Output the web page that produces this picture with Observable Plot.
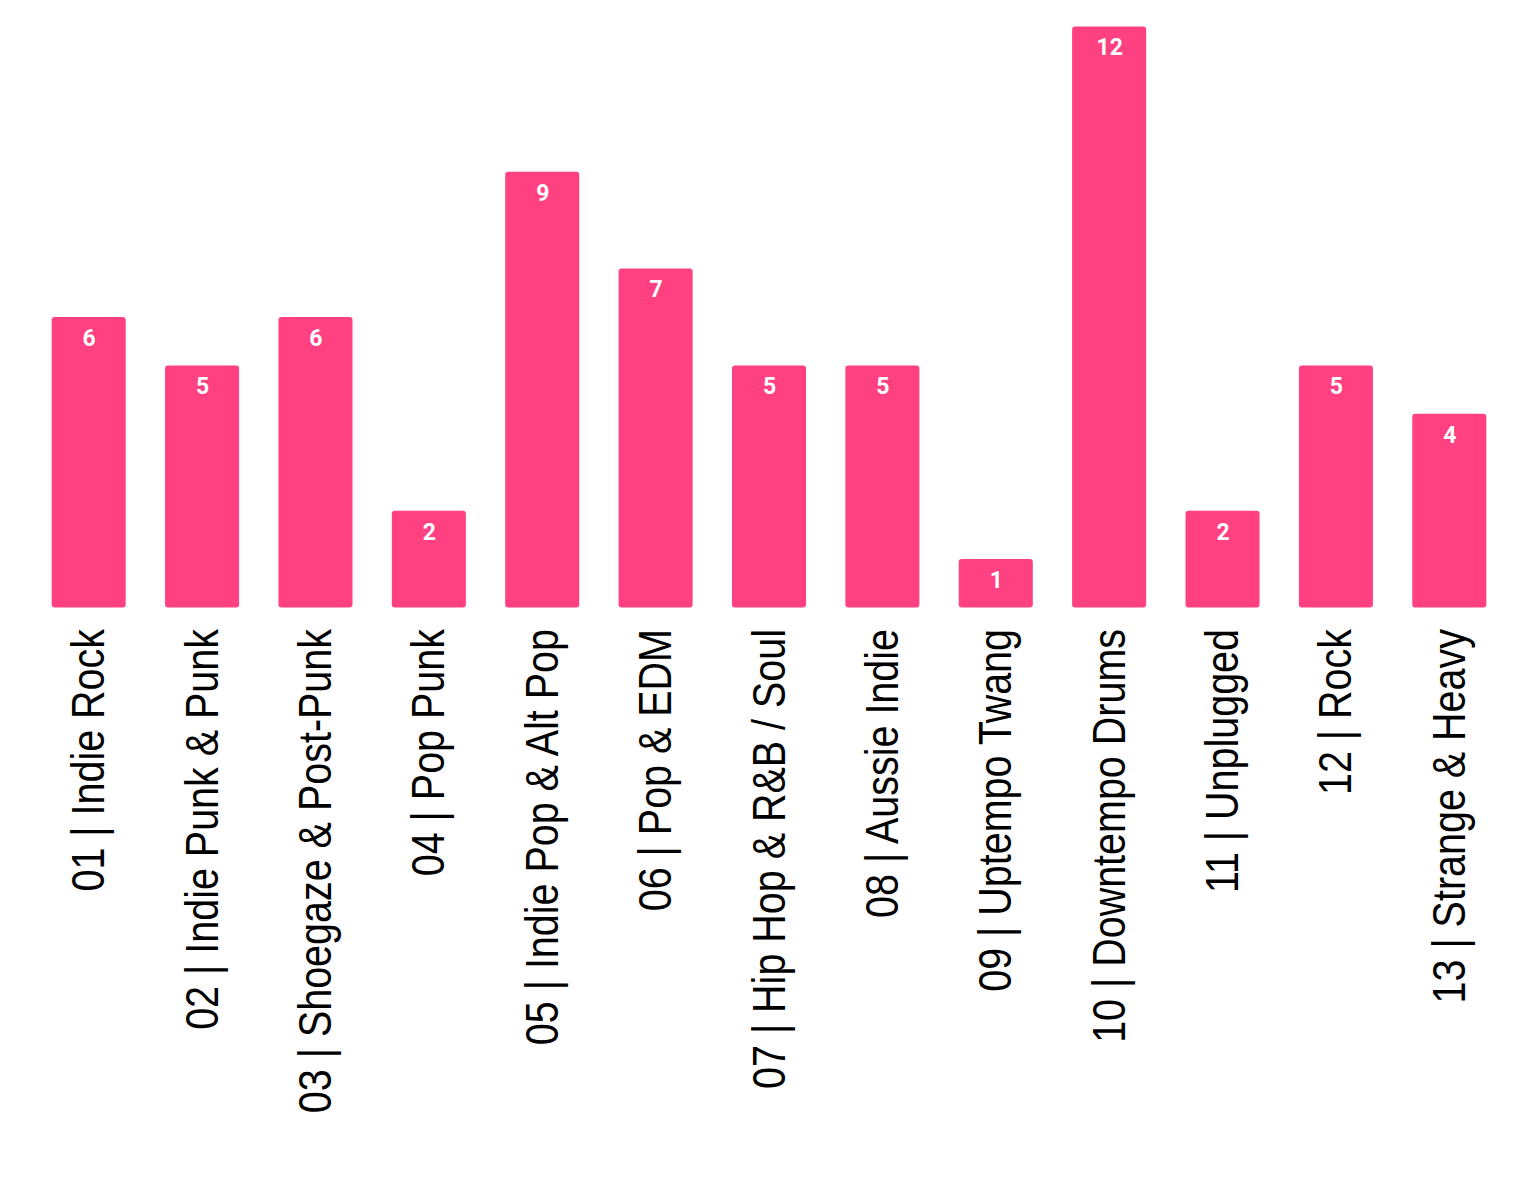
<!DOCTYPE html>
<html>
<head>
<meta charset="utf-8">
<script src="https://cdn.jsdelivr.net/npm/d3@7"></script>
<script src="https://cdn.jsdelivr.net/npm/@observablehq/plot@0.6"></script>
<style>
  html, body { margin: 0; padding: 0; background: #fff; }
  #chart svg { display: block; }
</style>
</head>
<body>
<div id="chart"></div>
<script>
const categories = [
  "01 | Indie Rock",
  "02 | Indie Punk & Punk",
  "03 | Shoegaze & Post-Punk",
  "04 | Pop Punk",
  "05 | Indie Pop & Alt Pop",
  "06 | Pop & EDM",
  "07 | Hip Hop & R&B / Soul",
  "08 | Aussie Indie",
  "09 | Uptempo Twang",
  "10 | Downtempo Drums",
  "11 | Unplugged",
  "12 | Rock",
  "13 | Strange & Heavy"
];
const counts = [6, 5, 6, 2, 9, 7, 5, 5, 1, 12, 2, 5, 4];

const data = categories.map((c, i) => ({genre: c, count: counts[i]}));

const pink = "#FF4081";

const chart = Plot.plot({
  width: 1536,
  height: 1178,
  marginTop: 26.5,
  marginBottom: 570.5,
  marginLeft: 32,
  marginRight: 30,
  x: {domain: categories, paddingInner: 0.347, paddingOuter: 0.1735, round: false, label: null},
  y: {domain: [0, 12], axis: null},
  style: {background: "#fff", color: "#000", overflow: "visible"},
  marks: [
    Plot.barY(data, {x: "genre", y: "count", fill: pink, rx: 3}),
    Plot.text(data, {
      x: "genre", y: "count", text: d => String(d.count),
      dy: 21, fill: "#fff", fontSize: 23, fontWeight: "bold",
      fontFamily: "Roboto, sans-serif", lineAnchor: "middle"
    }),
    Plot.axisX({
      tickRotate: -90, tickSize: 0, tickPadding: 21, fontSize: 47,
      fontFamily: "'Liberation Sans', Arial, sans-serif", label: null,
      fill: "#000"
    })
  ]
});

document.getElementById("chart").appendChild(chart);

// compress tick labels along their reading direction (narrow face)
chart.querySelectorAll('[aria-label="x-axis tick label"] text').forEach(t => {
  const tr = t.getAttribute("transform") || "";
  t.setAttribute("transform", tr + " scale(0.84,1)");
});
</script>
</body>
</html>
